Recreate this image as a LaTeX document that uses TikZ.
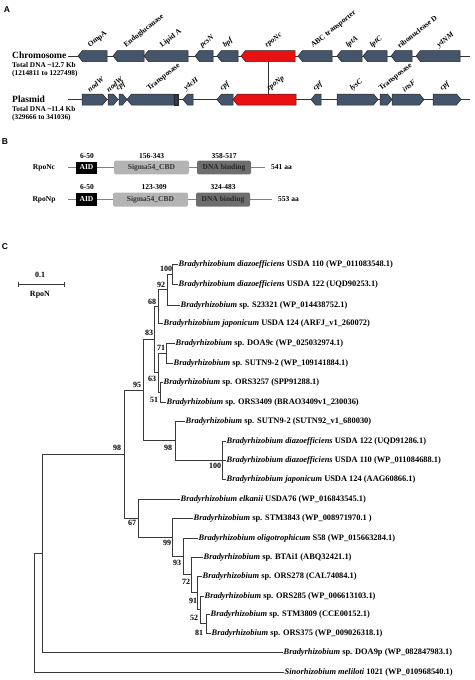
\documentclass[tikz,border=0pt]{standalone}
\usepackage{fontspec}
\setmainfont{Liberation Serif}
\newfontfamily\lsans{Liberation Sans}
\definecolor{gs}{HTML}{44546A}
\definecolor{gr}{HTML}{E81010}
\definecolor{lgray}{HTML}{B4B4B4}
\definecolor{dgray}{HTML}{6E6E6E}
\definecolor{tree}{HTML}{3A3A3A}
\newcommand\gL[4]{\draw[gene,fill=#4] ({#1+4.5},{#3-5.5}) -- (#2,{#3-5.5}) -- (#2,{#3+5.5}) -- ({#1+4.5},{#3+5.5}) -- (#1,#3) -- cycle;}
\newcommand\gR[4]{\draw[gene,fill=#4] (#1,{#3-5.5}) -- ({#2-4.5},{#3-5.5}) -- (#2,#3) -- ({#2-4.5},{#3+5.5}) -- (#1,{#3+5.5}) -- cycle;}
\newcommand\glab[4]{\node[glabel] (#1) at (#2,#3) {#4};}
\newcommand\lf[4]{\node[leaf] (#1) at (#2,#3) {#4};}
\newcommand\bsl[4]{\node[bs] (#1) at (#2,#3) {#4};}
\begin{document}
\begin{tikzpicture}[x=1pt,y=-1pt,
  gene/.style={draw=black!85,line width=0.5pt},
  dna/.style={draw=black!80,line width=0.7pt},
  glabel/.style={font=\fontsize{7.5}{8.5}\selectfont\bfseries,inner sep=0pt,anchor=south west,rotate=38},
  panel/.style={font=\lsans\bfseries\fontsize{8.5}{10}\selectfont,inner sep=0pt},
  info/.style={font=\fontsize{7.3}{8.5}\selectfont\bfseries,inner sep=0pt,anchor=west},
  dom/.style={rounded corners=1.5pt,draw=none},
  domtxt/.style={font=\fontsize{7.5}{9}\selectfont\bfseries,inner sep=0pt},
  leaf/.style={font=\fontsize{8.4}{9.5}\selectfont\bfseries,inner sep=0.5pt,anchor=west},
  bs/.style={font=\fontsize{8}{9}\selectfont\bfseries,inner sep=0pt},
  br/.style={draw=tree,line width=0.9pt}]
\useasboundingbox (0,0) rectangle (474,680);
% ---------------- Panel A
\node[panel] (pA) at (7,9.5) {A};
\node[info,font=\fontsize{9.5}{11}\selectfont\bfseries] (chr) at (12,55.5) {Chromosome};
\node[info] (chr1) at (12,65) {Total DNA \textasciitilde12.7 Kb};
\node[info] (chr2) at (12,73.5) {(1214811 to 1227498)};
\node[info,font=\fontsize{9.5}{11}\selectfont\bfseries] (pls) at (12,99.5) {Plasmid};
\node[info] (pls1) at (12,109.5) {Total DNA \textasciitilde11.4 Kb};
\node[info] (pls2) at (12,118) {(329666 to 341036)};
\coordinate (c0) at (68,56); \coordinate (c1) at (470,56);
\coordinate (p0) at (68,99.5); \coordinate (p1) at (470,99.5);
\draw[dna] (c0) -- (c1);
\draw[dna] (p0) -- (p1);
\coordinate (rc) at (268,61.5); \coordinate (rp) at (268,94);
\draw[dna] (rc) -- (rp);
% chromosome genes
\gL{78}{107}{56}{gs}
\gL{113}{144}{56}{gs}
\gL{144}{188}{56}{gs}
\gL{195}{213}{56}{gs}
\gL{217}{238}{56}{gs}
\gL{241}{295}{56}{gr}
\gL{298}{332}{56}{gs}
\gL{337}{362}{56}{gs}
\gL{363}{387}{56}{gs}
\gL{391}{412}{56}{gs}
\gL{416}{460}{56}{gs}
\glab{g1}{91}{49}{OmpA}
\glab{g2}{127}{49}{Endoglucanase}
\glab{g3}{163}{49}{Lipid A}
\glab{g4}{203}{49}{\itshape pcsN}
\glab{g5}{226}{49}{\itshape bpf}
\glab{g6}{268}{49}{\itshape rpoNc}
\glab{g7}{314}{49}{ABC transporter}
\glab{g8}{349}{49}{\itshape lptA}
\glab{g9}{373}{49}{\itshape lptC}
\glab{g10}{400}{49}{ribonuclease D}
\glab{g11}{440}{49}{\itshape y4NM}
% plasmid genes
\gR{82}{107}{99.5}{gs}
\gR{108}{118}{99.5}{gs}
\gR{119}{127}{99.5}{gs}
\gL{127}{174}{99.5}{gs}
\draw[gene,fill=gs!70!black] (174,94) rectangle (178,105);
\gL{183}{193}{99.5}{gs}
\gL{217}{233}{99.5}{gs}
\gL{233}{296}{99.5}{gr}
\gL{311}{321}{99.5}{gs}
\gR{337}{378}{99.5}{gs}
\gR{380}{392}{99.5}{gs}
\gR{392}{424}{99.5}{gs}
\gR{433}{461}{99.5}{gs}
\glab{h1}{90}{92.5}{\itshape nodW}
\glab{h2}{109}{92.5}{\itshape nodW}
\glab{h3}{119}{92.5}{\itshape cpf}
\glab{h4}{150}{92.5}{Transposase}
\glab{h5}{187}{92.5}{\itshape y4cH}
\glab{h6}{223}{92.5}{\itshape cpf}
\glab{h7}{270}{92.5}{\itshape rpoNp}
\glab{h8}{316}{92.5}{\itshape cpf}
\glab{h9}{353}{92.5}{\itshape lysC}
\glab{h10}{382}{92.5}{Transposase}
\glab{h11}{405}{92.5}{\itshape insF}
\glab{h12}{443}{92.5}{\itshape cpf}
% ---------------- Panel B
\node[panel] (pB) at (5,142) {B};
\node[domtxt] (rnc) at (44,167.5) {RpoNc};
\coordinate (a0) at (68,167.5); \coordinate (a1) at (265,167.5);
\draw[dna,draw=gray] (a0) -- (a1);
\node[dom,fill=black,minimum width=21pt,minimum height=12pt,rounded corners=0pt,text=white,font=\fontsize{7.5}{9}\selectfont\bfseries] (aid1) at (86.5,167.5) {AID};
\node[dom,fill=lgray,minimum width=75pt,minimum height=13pt,font=\fontsize{7.5}{9}\selectfont\bfseries,text=black!80] (sg1) at (151.5,167.5) {Sigma54\_CBD};
\node[dom,fill=dgray,minimum width=54pt,minimum height=13pt,font=\fontsize{7.5}{9}\selectfont\bfseries,text=black!85] (dn1) at (224,167.5) {DNA binding};
\node[domtxt,anchor=west] (len1) at (271,167.5) {541 aa};
\node[domtxt] (n1a) at (87,156) {6-50};
\node[domtxt] (n1b) at (151.5,156) {156-343};
\node[domtxt] (n1c) at (224,156) {358-517};
\node[domtxt] (rnp) at (44,199.5) {RpoNp};
\coordinate (b0) at (68,199.5); \coordinate (b1) at (272,199.5);
\draw[dna,draw=gray] (b0) -- (b1);
\node[dom,fill=black,minimum width=21pt,minimum height=13pt,rounded corners=0pt,text=white,font=\fontsize{7.5}{9}\selectfont\bfseries] (aid2) at (86.5,199.5) {AID};
\node[dom,fill=lgray,minimum width=75pt,minimum height=14pt,font=\fontsize{7.5}{9}\selectfont\bfseries,text=black!80] (sg2) at (150.5,199.5) {Sigma54\_CBD};
\node[dom,fill=dgray,minimum width=54pt,minimum height=14pt,font=\fontsize{7.5}{9}\selectfont\bfseries,text=black!85] (dn2) at (223,199.5) {DNA binding};
\node[domtxt,anchor=west] (len2) at (278,199.5) {553 aa};
\node[domtxt] (n2a) at (87,187) {6-50};
\node[domtxt] (n2b) at (154,187) {123-309};
\node[domtxt] (n2c) at (223,187) {324-483};
% ---------------- Panel C
\node[panel] (pC) at (5,247) {C};
\node[bs] (sc) at (40,275) {0.1};
\coordinate (s0) at (18,284); \coordinate (s1) at (64,284);
\draw[br] (s0) -- (s1);
\draw[br] (18,281.5) -- (18,286.5);
\draw[br] (64,281.5) -- (64,286.5);
\node[bs] (rpn) at (40,295) {RpoN};
% leaves
\lf{l1}{178}{264}{\textit{Bradyrhizobium diazoefficiens} USDA 110 (WP\_011083548.1)}
\lf{l2}{178}{284}{\textit{Bradyrhizobium diazoefficiens} USDA 122 (UQD90253.1)}
\lf{l3}{180}{305}{\textit{Bradyrhizobium} sp. S23321 (WP\_014438752.1)}
\lf{l4}{163}{323}{\textit{Bradyrhizobium japonicum} USDA 124 (ARFJ\_v1\_260072)}
\lf{l5}{175}{343}{\textit{Bradyrhizobium} sp. DOA9c (WP\_025032974.1)}
\lf{l6}{173}{363}{\textit{Bradyrhizobium} sp. SUTN9-2 (WP\_109141884.1)}
\lf{l7}{163}{382}{\textit{Bradyrhizobium} sp. ORS3257 (SPP91288.1)}
\lf{l8}{166}{402}{\textit{Bradyrhizobium} sp. ORS3409 (BRAO3409v1\_230036)}
\lf{l9}{185}{421}{\textit{Bradyrhizobium} sp. SUTN9-2 (SUTN92\_v1\_680030)}
\lf{l10}{226}{441}{\textit{Bradyrhizobium diazoefficiens} USDA 122 (UQD91286.1)}
\lf{l11}{226}{460}{\textit{Bradyrhizobium diazoefficiens} USDA 110 (WP\_011084688.1)}
\lf{l12}{226}{479}{\textit{Bradyrhizobium japonicum} USDA 124 (AAG60866.1)}
\lf{l13}{180}{499}{\textit{Bradyrhizobium elkanii} USDA76 (WP\_016843545.1)}
\lf{l14}{193}{518}{\textit{Bradyrhizobium} sp. STM3843 (WP\_008971970.1 )}
\lf{l15}{198}{538}{\textit{Bradyrhizobium oligotrophicum} S58 (WP\_015663284.1)}
\lf{l16}{203}{557}{\textit{Bradyrhizobium} sp. BTAi1 (ABQ32421.1)}
\lf{l17}{202}{576}{\textit{Bradyrhizobium} sp. ORS278 (CAL74084.1)}
\lf{l18}{204}{596}{\textit{Bradyrhizobium} sp. ORS285 (WP\_006613103.1)}
\lf{l19}{210}{614}{\textit{Bradyrhizobium} sp. STM3809 (CCE00152.1)}
\lf{l20}{211}{633}{\textit{Bradyrhizobium} sp. ORS375 (WP\_009026318.1)}
\lf{l21}{283}{652}{\textit{Bradyrhizobium} sp. DOA9p (WP\_082847983.1)}
\lf{l22}{284}{672}{\textit{Sinorhizobium meliloti} 1021 (WP\_010968540.1)}
% internal nodes
\coordinate (nA) at (172,274);
\coordinate (nB) at (167,289.5);
\coordinate (nC) at (158,306);
\coordinate (nD) at (166,353);
\coordinate (nE) at (160,392);
\coordinate (nF) at (158,372.5);
\coordinate (nG) at (154,339);
\coordinate (nH) at (222,460);
\coordinate (nI) at (175,440.5);
\coordinate (nJ) at (143,390);
\coordinate (nK) at (206,623.5);
\coordinate (nL) at (200,609.75);
\coordinate (nM) at (197,592.9);
\coordinate (nN) at (191,574.9);
\coordinate (nO) at (183,556.5);
\coordinate (nP) at (172,537.2);
\coordinate (nQ) at (138,518.1);
\coordinate (nR) at (124,454);
\coordinate (nS) at (42,553);
\coordinate (nT) at (34,612.5);
% branches
\draw[br] (nA) |- (l1.west);
\draw[br] (nA) |- (l2.west);
\draw[br] (nB) |- (nA);
\draw[br] (nB) |- (l3.west);
\draw[br] (nC) |- (nB);
\draw[br] (nC) |- (l4.west);
\draw[br] (nD) |- (l5.west);
\draw[br] (nD) |- (l6.west);
\draw[br] (nE) |- (l7.west);
\draw[br] (nE) |- (l8.west);
\draw[br] (nF) |- (nD);
\draw[br] (nF) |- (nE);
\draw[br] (nG) |- (nC);
\draw[br] (nG) |- (nF);
\draw[br] (nH) |- (l10.west);
\draw[br] (nH) |- (l11.west);
\draw[br] (nH) |- (l12.west);
\draw[br] (nI) |- (l9.west);
\draw[br] (nI) |- (nH);
\draw[br] (nJ) |- (nG);
\draw[br] (nJ) |- (nI);
\draw[br] (nK) |- (l19.west);
\draw[br] (nK) |- (l20.west);
\draw[br] (nL) |- (l18.west);
\draw[br] (nL) |- (nK);
\draw[br] (nM) |- (l17.west);
\draw[br] (nM) |- (nL);
\draw[br] (nN) |- (l16.west);
\draw[br] (nN) |- (nM);
\draw[br] (nO) |- (l15.west);
\draw[br] (nO) |- (nN);
\draw[br] (nP) |- (l14.west);
\draw[br] (nP) |- (nO);
\draw[br] (nQ) |- (l13.west);
\draw[br] (nQ) |- (nP);
\draw[br] (nR) |- (nJ);
\draw[br] (nR) |- (nQ);
\draw[br] (nS) |- (nR);
\draw[br] (nS) |- (l21.west);
\draw[br] (nT) |- (nS);
\draw[br] (nT) |- (l22.west);
% bootstrap values
\bsl{b1}{166}{269}{100}
\bsl{b2}{161}{285}{92}
\bsl{b3}{152}{302}{68}
\bsl{b4}{149}{333}{83}
\bsl{b5}{161}{348}{71}
\bsl{b6}{152}{379}{63}
\bsl{b7}{154}{400}{51}
\bsl{b8}{137}{385}{95}
\bsl{b9}{168}{448}{98}
\bsl{b10}{215}{466}{100}
\bsl{b11}{117}{448}{98}
\bsl{b12}{132}{523}{67}
\bsl{b13}{167}{543}{99}
\bsl{b14}{177}{563}{93}
\bsl{b15}{186}{582}{72}
\bsl{b16}{193}{601}{91}
\bsl{b17}{194}{618}{52}
\bsl{b18}{199}{633}{81}
\end{tikzpicture}
\end{document}
